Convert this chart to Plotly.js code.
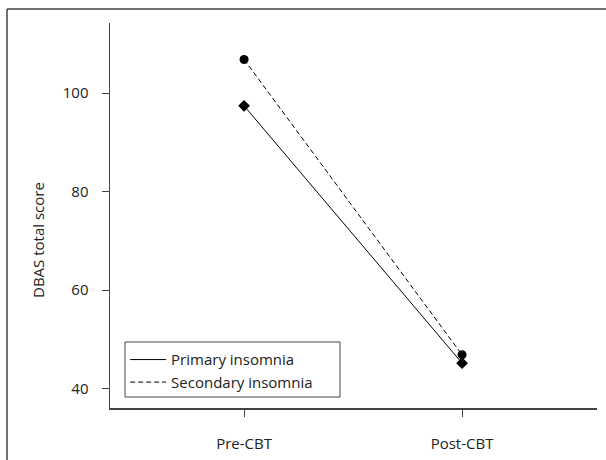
<!DOCTYPE html>
<html>
<head>
<meta charset="utf-8">
<script src="https://cdn.plot.ly/plotly-3.0.1.min.js"></script>
<style>html,body{margin:0;padding:0;background:#fff;}#chart{width:606px;height:460px;}</style>
</head>
<body>
<div id="chart"></div>
<script>
var categories = ["Pre-CBT", "Post-CBT"];
var primaryInsomnia = [97.4, 45.2];
var secondaryInsomnia = [106.8, 46.9];
var yTicks = [40, 60, 80, 100];

var FONT = "'Open Sans', sans-serif";
var data = [
  {x: categories, y: primaryInsomnia, type: "scatter", mode: "lines", name: "Primary insomnia",
   line: {color: "#000", width: 1}},
  {x: categories, y: secondaryInsomnia, type: "scatter", mode: "lines", name: "Secondary insomnia",
   line: {color: "#000", width: 1, dash: "5px,3px"}},
  {x: categories, y: primaryInsomnia, type: "scatter", mode: "markers", showlegend: false,
   marker: {symbol: "diamond", size: 9, color: "#000"}},
  {x: categories, y: secondaryInsomnia, type: "scatter", mode: "markers", showlegend: false,
   marker: {symbol: "circle", size: 9, color: "#000"}}
];

var layout = {
  width: 606, height: 460,
  margin: {l: 110, r: 9, t: 23, b: 52},
  paper_bgcolor: "#fff", plot_bgcolor: "#fff",
  font: {family: FONT, size: 15, color: "#222"},
  showlegend: true,
  legend: {x: 0.031, y: 0.168, xanchor: "left", yanchor: "top", itemwidth: 36,
           borderwidth: 0, bgcolor: "rgba(0,0,0,0)",
           font: {family: FONT, size: 15, color: "#222"}, tracegroupgap: 0},
  xaxis: {type: "category", range: [-0.615, 1.619], showline: true, linecolor: "#444", linewidth: 1.5,
          showgrid: false, zeroline: false, ticks: "outside", ticklen: 7, tickcolor: "#444",
          ticklabelstandoff: 14, tickfont: {family: FONT, size: 15, color: "#222"}},
  yaxis: {range: [36.1, 114.2], tickvals: yTicks, showline: true, linecolor: "#444", linewidth: 1.5,
          showgrid: false, zeroline: false, ticks: "outside", ticklen: 7, tickcolor: "#444",
          ticklabelstandoff: 10, tickfont: {family: FONT, size: 15, color: "#222"}},
  annotations: [{text: "DBAS total score", xref: "paper", yref: "paper",
                 x: (38 - 110) / 487, y: (408 - 240) / 385, textangle: -90,
                 showarrow: false, xanchor: "center", yanchor: "middle",
                 font: {family: FONT, size: 15, color: "#222"}}],
  shapes: [
    {type: "line", xref: "paper", yref: "paper", x0: (7 - 110) / 487, x1: (7 - 110) / 487,
     y0: (408 - 9) / 385, y1: (408 - 470) / 385, line: {color: "#444", width: 1.5}},
    {type: "line", xref: "paper", yref: "paper", x0: (7 - 110) / 487, x1: (620 - 110) / 487,
     y0: (408 - 9) / 385, y1: (408 - 9) / 385, line: {color: "#444", width: 1.5}},
    {type: "rect", xref: "paper", yref: "paper", x0: (125 - 110) / 487, x1: (340 - 110) / 487,
     y0: (408 - 397) / 385, y1: (408 - 342) / 385, fillcolor: "#fff", layer: "above",
     line: {color: "#444", width: 1}}
  ]
};

Plotly.newPlot("chart", data, layout, {staticPlot: true, displayModeBar: false});
</script>
</body>
</html>
